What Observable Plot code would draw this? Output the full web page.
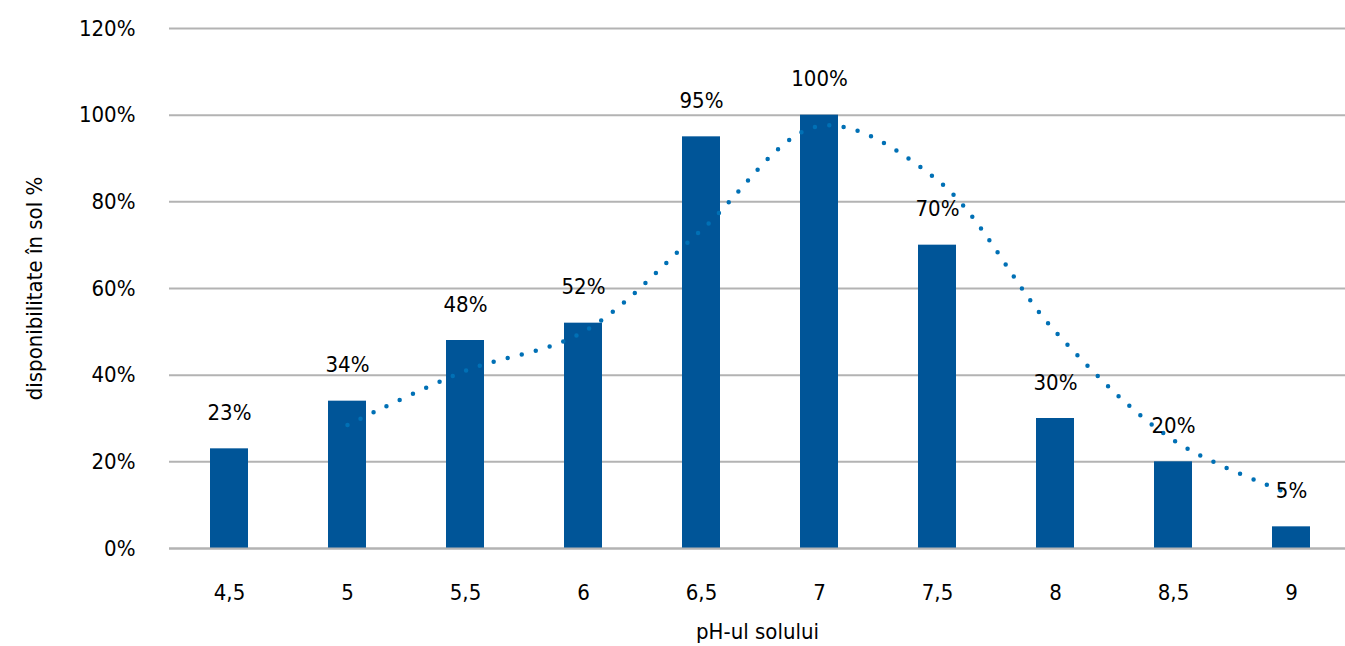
<!DOCTYPE html>
<html>
<head>
<meta charset="utf-8">
<script src="https://cdn.jsdelivr.net/npm/d3@7"></script>
<script src="https://cdn.jsdelivr.net/npm/@observablehq/plot@0.6"></script>
<style>
  html, body { margin: 0; padding: 0; background: #fff; }
  #chart svg { font-family: "Liberation Sans Narrow", "DejaVu Sans Condensed", "Roboto", sans-serif; }
</style>
</head>
<body>
<div id="chart"></div>
<script>
const categories = ["4,5", "5", "5,5", "6", "6,5", "7", "7,5", "8", "8,5", "9"];
const values = [23, 34, 48, 52, 95, 100, 70, 30, 20, 5];
const trendCategories = ["5", "5,5", "6", "6,5", "7", "7,5", "8", "8,5", "9"];
const trendValues = [28.5, 41, 50, 73.5, 97.5, 85, 50, 25, 12.5];
const yTicks = [0, 20, 40, 60, 80, 100, 120];

const bars = categories.map((c, i) => ({ph: c, v: values[i]}));
const trend = trendCategories.map((c, i) => ({ph: c, v: trendValues[i]}));

const chart = Plot.plot({
  width: 1345,
  height: 646,
  marginLeft: 169,
  marginRight: 0,
  marginTop: 28,
  marginBottom: 98,
  style: { fontSize: "22px", color: "#000", background: "#fff" },
  x: { domain: categories, range: [169, 1351], paddingInner: 0.675, paddingOuter: 0.34, align: 0.5, label: null },
  y: { domain: [0, 120], label: null },
  marks: [
    Plot.gridY(yTicks, { stroke: "#b3b3b3", strokeWidth: 2, strokeOpacity: 1 }),
    Plot.barY(bars, { x: "ph", y: "v", fill: "#005598" }),
    Plot.ruleY([0], { stroke: "#b3b3b3", strokeWidth: 2 }),
    Plot.line(trend, { x: "ph", y: "v", stroke: "#0070b5", strokeWidth: 4.5, strokeDasharray: "0 14.5", strokeLinecap: "round", curve: "catmull-rom" }),
    Plot.text(bars, { x: "ph", y: "v", text: d => d.v + "%", dy: -36, fill: "#000", fontSize: 22 }),
    Plot.axisY({ ticks: yTicks, tickSize: 0, tickPadding: 34, tickFormat: d => d + "%", fontSize: 22, label: "disponibilitate în sol %", labelAnchor: "center", labelOffset: 143, labelArrow: "none" }),
    Plot.axisX({ tickSize: 0, tickPadding: 36, fontSize: 22, label: "pH-ul solului", labelAnchor: "center", labelOffset: 90, labelArrow: "none" })
  ]
});
document.getElementById("chart").appendChild(chart);
</script>
</body>
</html>
